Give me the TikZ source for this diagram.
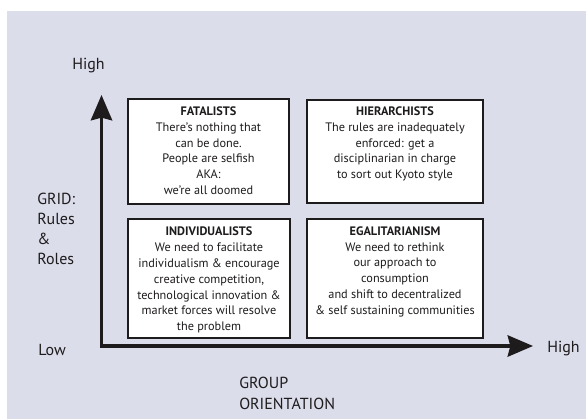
\documentclass[tikz,border=0pt]{standalone}
\usepackage{fontspec}
\setmainfont{PT Sans}
\usetikzlibrary{arrows.meta}
\definecolor{panel}{RGB}{219,221,235}
\definecolor{ink}{RGB}{30,27,28}
\begin{document}
\begin{tikzpicture}[x=0.75pt,y=-0.75pt,
  quad/.style={draw=ink, line width=1.2pt, fill=white, inner sep=0pt},
  quadtext/.style={anchor=north, align=center, inner sep=0pt,
    font=\fontsize{9.2}{11.85}\selectfont, text=ink},
  axislabel/.style={inner sep=0pt, font=\fontsize{12}{15}\selectfont,
    text=ink, align=left},
  axisline/.style={draw=ink, line width=2.3pt, line join=miter,
    {Stealth[length=19pt,width=16pt,inset=2pt]}-{Stealth[length=19pt,width=16pt,inset=2pt]}}
]
\useasboundingbox (0,0) rectangle (586,419);
\fill[panel] (7,11) rectangle (586,419);

% axes
\coordinate (origin) at (101.5,346);
\coordinate (ytip) at (101.5,95);
\coordinate (xtip) at (533,346);
\draw[axisline] (ytip) -- (origin) -- (xtip);

% quadrant boxes
\node[quad, line width=0.9pt, minimum width=120.75pt, minimum height=78.75pt] (fat) at (208.5,151.5) {};
\node[quad, minimum width=132pt, minimum height=77.25pt] (hier) at (395,151.5) {};
\node[quad, minimum width=121.5pt, minimum height=89.25pt] (ind) at (209,278.5) {};
\node[quad, minimum width=132pt, minimum height=89.25pt] (egal) at (395,278.5) {};

\node[quadtext] (fattext) at ([yshift=-6pt]fat.north) {\textbf{FATALISTS}\\There’s nothing that\\can be done.\\People are selfish\\AKA:\\we’re all doomed};
\node[quadtext] (hiertext) at ([yshift=-5.5pt]hier.north) {\textbf{HIERARCHISTS}\\The rules are inadequately\\enforced: get a\\disciplinarian in charge\\to sort out Kyoto style};
\node[quadtext] (indtext) at ([yshift=-6.5pt]ind.north) {\textbf{INDIVIDUALISTS}\\We need to facilitate\\individualism \& encourage\\creative competition,\\technological innovation \&\\market forces will resolve\\the problem};
\node[quadtext] (egaltext) at ([yshift=-6pt]egal.north) {\textbf{EGALITARIANISM}\\We need to rethink\\our approach to\\consumption\\and shift to decentralized\\\& self sustaining communities};

% axis labels
\node[axislabel, anchor=west] (yhigh) at (72,66) {High};
\node[axislabel, anchor=north west] (grid) at (37,193) {GRID:\\Rules\\\&\\Roles};
\node[axislabel, anchor=west] (ylow) at (38,350) {Low};
\node[axislabel, anchor=west] (xhigh) at (547,349) {High};
\node[axislabel, anchor=north west, font=\fontsize{12}{15.75}\selectfont] (group) at (239,377) {GROUP\\ORIENTATION};
\end{tikzpicture}
\end{document}
